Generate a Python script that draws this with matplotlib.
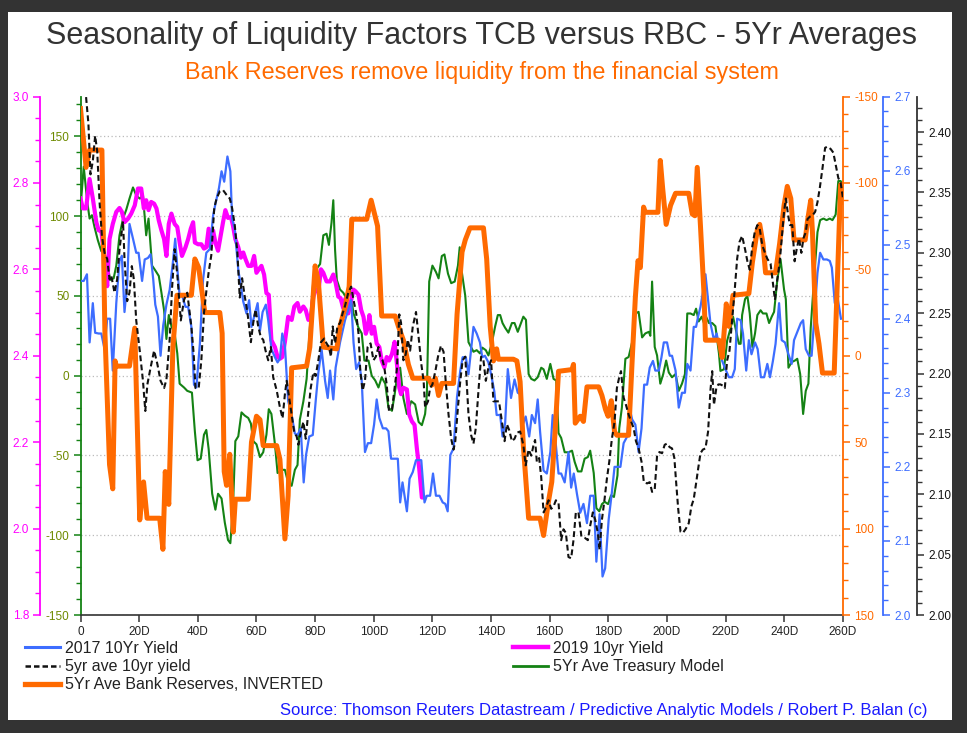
import matplotlib
matplotlib.use("Agg")
import matplotlib.pyplot as plt
from matplotlib.patches import Rectangle
from matplotlib.ticker import MultipleLocator, FormatStrFormatter, FixedLocator
from matplotlib.lines import Line2D

plt.rcParams['font.family'] = ['Liberation Sans', 'DejaVu Sans']
plt.rcParams['axes.unicode_minus'] = False

# ---------------- data (day, value) ----------------
x_ticks = list(range(0, 261, 20))
x_labels = ['0'] + [f'{d}D' for d in x_ticks[1:]]

# 5Yr Ave Treasury Model (left inner axis, -150..175)
treasury_pts = [(0,105),(1.1,131),(2.3,109),(3.1,98.5),(3.9,100.6),(4.8,93),(5.9,85),(7.1,78),(8.2,77),(9.3,69),(10.1,60),(11.3,61),(12.2,69),(13.3,88),(14.5,98.5),(15.6,104),(16.7,111),(17.9,118),(19.0,113),(20.2,111),(21.3,113),(22.4,88),(23.2,98.5),(24.4,69),(25.5,66),(26.7,62.5),(27.6,52),(28.5,41),(29.3,23),(30.1,38),(31.0,31),(32.1,26.5),(33.0,14),(33.8,-5),(35.3,-7.4),(36.4,-9.5),(38.0,-10.6),(39.0,-35),(39.9,-53),(41.0,-52),(42.1,-37),(42.9,-34),(43.7,-46),(44.9,-74),(46.0,-84),(46.9,-74),(48.1,-77),(49.2,-92),(50.3,-103),(51.1,-105),(52.0,-82),(52.8,-41),(53.8,-38),(54.9,-23),(56.0,-25),(57.2,-26.5),(58.1,-30),(58.9,-41),(60.0,-43),(61.2,-51),(62.3,-48),(63.4,-37),(64.2,-21),(65.1,-24),(66.3,-43),(67.2,-61),(68.6,-59),(69.7,-59),(70.8,-67),(72.0,-69),(73.1,-59),(74.0,-56),(74.8,-27.5),(76.0,-16),(77.1,-2),(78.2,30),(79.4,60),(80.5,67),(81.7,70),(82.8,88),(83.9,89),(84.7,82),(85.6,96),(86.2,110),(86.8,79),(87.4,60),(88.5,54),(89.6,52),(90.8,48),(91.9,54),(93.1,39),(94.8,30),(95.9,26.5),(96.8,9.5),(98.2,9.5),(99.3,0),(100.5,-3),(101.6,-7.4),(102.7,-1),(103.9,-5),(105.0,-20),(106.2,-22),(107.1,-12),(108.2,3),(109.0,5),(110.1,-14),(111.3,-24),(112.8,-16),(114.1,-18),(115.3,-29),(116.4,-31),(117.5,-24),(118.1,-12),(118.9,59),(120.0,69),(121.2,65),(122.1,61),(123.2,75),(124.1,76),(125.3,64),(126.4,58),(127.6,59),(128.7,69),(129.3,80.5),(130.1,64),(131.2,50),(132.3,21),(134.0,15),(135.1,16),(136.2,14),(137.0,17.6),(138.2,16),(139.1,12.7),(140.2,20),(141.4,31),(142.3,38),(143.1,38),(143.9,33),(144.8,30),(145.9,27),(147.1,33),(148.0,33),(149.1,27.5),(150.2,33),(151.0,37),(151.9,35),(152.8,1),(153.7,-2),(154.8,-3),(155.9,-1),(157.1,5),(157.9,4),(159.0,-2),(160.2,7.4),(161.3,-2),(162.2,-3),(163.0,-36),(163.9,-39),(165.1,-48),(166.4,-48),(167.6,-47),(168.5,-54),(169.6,-60),(170.8,-60),(171.9,-52),(173.0,-51),(173.8,-47),(175.0,-61),(175.9,-83),(176.9,-85),(177.8,-80.5),(178.7,-79),(179.9,-80.5),(180.9,-75),(181.9,-76),(183.1,-62.5),(183.7,-33),(184.6,-20),(185.8,10.6),(186.9,11.7),(188.1,21),(189.2,39),(190.3,40),(191.5,24),(192.6,26.5),(193.8,27.5),(194.3,25),(194.9,59),(195.8,18),(196.6,12.7),(197.7,-5),(198.7,1),(199.7,9.5),(200.6,2),(201.7,-1),(202.9,1),(204.0,-9.5),(205.1,-5),(206.1,1),(206.9,39),(208.0,39),(209.1,38),(209.9,42),(210.8,34),(211.8,37),(212.6,33),(213.3,37),(214.3,33),(215.4,33),(216.5,31),(217.7,14),(218.2,3),(219.4,4),(220.5,22),(221.7,30),(222.5,37),(223.6,27.5),(224.5,20),(225.1,20),(225.6,38),(226.6,48),(227.4,50),(228.2,39),(229.1,18),(230.0,26.5),(230.8,38),(231.9,41),(232.7,39),(233.9,39),(234.8,33),(235.7,37),(236.5,40),(237.6,60),(238.7,73),(239.9,54),(240.5,48),(241.4,5),(242.5,8.5),(243.6,9.5),(244.4,10.6),(245.4,1),(246.4,-24),(247.3,-9.5),(248.2,-5),(249.0,30),(250.1,60),(251.3,90),(252.2,97.5),(253.3,98.5),(254.4,97.5),(255.5,98.5),(256.4,97.5),(257.5,101),(258.4,122),(259.2,122),(259.8,120)]

# 2019 10yr Yield (left outer axis, 1.8..3.0)
y2019_pts = [(0,2.764),(0.8,2.741),(1.9,2.741),(3.1,2.809),(4.2,2.764),(5.4,2.709),(6.2,2.690),(7.1,2.690),(8.2,2.623),(9.1,2.561),(9.9,2.670),(11.0,2.705),(12.2,2.733),(13.3,2.742),(14.1,2.733),(15.0,2.709),(16.2,2.717),(17.3,2.729),(18.5,2.748),(19.6,2.787),(20.7,2.787),(21.6,2.741),(22.4,2.760),(23.2,2.737),(24.1,2.756),(25.1,2.752),(25.9,2.741),(26.7,2.713),(27.6,2.690),(28.5,2.670),(29.3,2.631),(30.1,2.705),(31.0,2.729),(32.1,2.705),(33.0,2.698),(33.8,2.662),(34.6,2.631),(35.8,2.651),(36.7,2.670),(37.6,2.694),(38.4,2.709),(39.0,2.662),(40.1,2.658),(41.2,2.658),(42.1,2.648),(42.9,2.651),(43.7,2.694),(44.4,2.651),(45.2,2.690),(46.0,2.662),(46.9,2.643),(47.8,2.678),(48.6,2.709),(49.4,2.737),(50.3,2.719),(51.3,2.721),(52.0,2.701),(52.8,2.670),(53.8,2.651),(54.7,2.627),(55.5,2.639),(56.3,2.623),(57.2,2.608),(58.3,2.608),(59.2,2.631),(60.0,2.592),(60.8,2.600),(61.7,2.608),(62.6,2.588),(63.4,2.545),(64.2,2.541),(65.1,2.436),(66.3,2.420),(67.2,2.397),(68.0,2.393),(68.8,2.397),(69.7,2.432),(70.8,2.490),(72.0,2.483),(72.9,2.514),(74.0,2.522),(74.8,2.502),(76.0,2.514),(76.8,2.506),(77.7,2.483),(78.6,2.494),(79.4,2.537),(80.2,2.553),(81.1,2.549),(82.0,2.600),(82.8,2.592),(83.9,2.572),(85.1,2.572),(86.2,2.588),(87.0,2.569),(87.9,2.537),(88.7,2.533),(89.6,2.510),(90.4,2.533),(91.3,2.498),(92.3,2.529),(93.1,2.553),(93.8,2.549),(94.8,2.541),(95.7,2.506),(96.5,2.490),(97.3,2.451),(98.0,2.467),(98.5,2.494),(99.3,2.451),(100.1,2.467),(101.0,2.428),(101.9,2.420),(102.7,2.389),(103.6,2.373),(104.4,2.397),(105.2,2.389),(106.2,2.404),(107.1,2.432),(107.9,2.381),(108.7,2.326),(109.3,2.311),(110.1,2.326),(111.3,2.322),(112.1,2.264),(113.0,2.248),(113.9,2.240),(114.7,2.185),(115.5,2.139),(116.4,2.072),(117.0,2.072)]

# 2017 10Yr Yield (right axis 2.0..2.7)
y2017_pts = [(0,2.451),(1.1,2.451),(2.2,2.460),(3.1,2.368),(4.2,2.421),(5.0,2.381),(6.2,2.380),(7.1,2.380),(8.2,2.359),(9.1,2.400),(10.1,2.400),(11.0,2.330),(12.2,2.421),(13.3,2.478),(14.1,2.485),(15.0,2.409),(15.9,2.446),(16.7,2.528),(17.9,2.508),(19.0,2.489),(19.8,2.489),(21.0,2.451),(21.9,2.480),(23.0,2.482),(23.9,2.487),(24.8,2.453),(25.5,2.419),(26.4,2.403),(27.3,2.350),(28.2,2.391),(29.3,2.419),(30.4,2.439),(31.5,2.476),(32.3,2.508),(33.0,2.469),(33.8,2.430),(34.6,2.432),(35.8,2.416),(36.7,2.416),(37.8,2.389),(38.7,2.311),(39.5,2.307),(40.7,2.366),(41.8,2.453),(42.9,2.489),(44.1,2.494),(45.2,2.539),(46.0,2.555),(47.2,2.576),(48.1,2.599),(49.0,2.585),(50.1,2.619),(51.1,2.599),(51.7,2.535),(52.6,2.521),(53.8,2.466),(54.7,2.444),(55.5,2.423),(56.6,2.407),(57.5,2.425),(58.3,2.389),(59.5,2.407),(60.4,2.421),(61.2,2.384),(62.1,2.409),(63.2,2.419),(64.0,2.398),(65.1,2.359),(66.3,2.348),(67.2,2.341),(68.0,2.346),(68.8,2.380),(69.7,2.364),(70.8,2.289),(72.0,2.270),(73.1,2.245),(74.0,2.243),(75.1,2.252),(76.1,2.179),(76.9,2.216),(78.0,2.241),(79.2,2.243),(80.2,2.289),(81.1,2.327),(82.2,2.359),(83.4,2.316),(84.3,2.293),(85.1,2.330),(86.2,2.291),(87.0,2.334),(88.5,2.368),(90.2,2.398),(91.3,2.412),(92.3,2.425),(93.1,2.368),(94.0,2.332),(95.0,2.341),(95.9,2.316),(97.0,2.220),(98.0,2.232),(99.1,2.232),(100.1,2.257),(101.0,2.291),(101.9,2.266),(103.1,2.252),(104.2,2.252),(105.0,2.248),(105.9,2.211),(108.2,2.211),(109.0,2.152),(109.8,2.179),(111.3,2.140),(112.2,2.184),(113.3,2.193),(114.4,2.209),(116.2,2.209),(117.3,2.152),(118.1,2.161),(119.2,2.161),(120.2,2.191),(121.2,2.161),(122.4,2.161),(123.5,2.152),(124.4,2.150),(125.2,2.140),(126.1,2.216),(127.2,2.225),(128.4,2.295),(129.5,2.330),(130.3,2.348),(131.4,2.348),(132.3,2.325),(134.0,2.389),(135.1,2.380),(136.2,2.368),(137.0,2.348),(137.9,2.350),(139.1,2.341),(140.0,2.325),(141.1,2.302),(141.9,2.270),(143.1,2.270),(143.9,2.241),(144.8,2.259),(145.7,2.332),(146.8,2.293),(148.0,2.318),(149.1,2.300),(150.0,2.298),(151.0,2.259),(151.8,2.268),(153.0,2.241),(153.9,2.270),(155.0,2.259),(155.9,2.291),(156.7,2.248),(157.9,2.195),(159.0,2.191),(160.2,2.220),(161.0,2.270),(161.9,2.238),(163.0,2.191),(163.9,2.191),(165.1,2.179),(166.4,2.220),(167.3,2.172),(168.2,2.191),(169.3,2.163),(170.4,2.138),(171.5,2.150),(172.7,2.124),(173.8,2.161),(175.0,2.161),(175.9,2.072),(177.0,2.136),(178.0,2.052),(178.9,2.063),(180.1,2.129),(181.2,2.166),(182.1,2.200),(184.1,2.200),(185.2,2.232),(186.4,2.241),(187.2,2.280),(188.1,2.264),(189.2,2.257),(190.3,2.220),(191.3,2.252),(192.2,2.311),(193.2,2.311),(194.1,2.334),(195.2,2.343),(196.0,2.330),(197.2,2.330),(198.1,2.348),(198.9,2.368),(200.0,2.368),(200.9,2.350),(201.7,2.350),(202.9,2.330),(204.0,2.280),(205.1,2.300),(206.1,2.300),(206.9,2.339),(208.0,2.330),(209.1,2.389),(209.9,2.389),(210.6,2.403),(211.4,2.416),(212.2,2.435),(213.1,2.460),(214.0,2.425),(214.8,2.394),(216.0,2.371),(216.9,2.380),(217.9,2.362),(218.8,2.343),(219.9,2.332),(221.1,2.321),(222.2,2.321),(223.1,2.332),(223.9,2.400),(225.1,2.398),(225.9,2.380),(227.0,2.330),(227.9,2.371),(228.8,2.352),(230.0,2.368),(230.9,2.359),(232.0,2.321),(233.1,2.321),(234.2,2.339),(235.1,2.321),(236.1,2.343),(237.0,2.366),(238.2,2.421),(239.1,2.371),(240.2,2.368),(241.4,2.352),(242.5,2.339),(243.3,2.371),(244.4,2.382),(245.6,2.394),(246.4,2.398),(247.3,2.359),(248.4,2.350),(249.3,2.350),(250.1,2.394),(251.3,2.462),(252.2,2.489),(253.3,2.480),(254.5,2.480),(255.5,2.478),(256.2,2.469),(257.2,2.421),(258.1,2.430),(259.3,2.400)]

# 5yr ave 10yr yield (right outer axis 2.00..2.43)
ave10_pts = [(1.9,2.429),(2.7,2.407),(3.4,2.365),(4.2,2.376),(5.0,2.397),(5.7,2.384),(6.5,2.342),(7.3,2.314),(8.2,2.300),(9.1,2.295),(9.9,2.278),(10.5,2.281),(11.6,2.267),(12.5,2.278),(13.3,2.303),(14.5,2.326),(15.0,2.295),(15.9,2.260),(16.7,2.267),(17.5,2.289),(18.2,2.278),(19.0,2.244),(20.2,2.219),(21.3,2.194),(22.1,2.169),(22.8,2.191),(23.9,2.205),(25.1,2.219),(26.2,2.208),(27.3,2.194),(28.5,2.188),(29.3,2.195),(30.4,2.228),(31.2,2.270),(32.1,2.303),(33.0,2.282),(34.2,2.244),(35.3,2.261),(36.4,2.267),(37.8,2.239),(38.6,2.216),(39.2,2.188),(40.3,2.188),(41.2,2.211),(42.1,2.250),(42.9,2.268),(43.7,2.284),(44.6,2.298),(45.6,2.337),(46.4,2.345),(47.5,2.351),(48.6,2.352),(49.8,2.348),(50.9,2.345),(51.7,2.337),(52.6,2.323),(53.5,2.300),(54.3,2.263),(55.1,2.279),(56.0,2.264),(56.9,2.251),(58.1,2.226),(58.9,2.242),(59.7,2.253),(60.6,2.239),(61.5,2.230),(62.3,2.228),(63.1,2.219),(64.0,2.211),(64.9,2.222),(65.7,2.197),(66.9,2.186),(68.0,2.172),(68.9,2.163),(69.7,2.183),(70.3,2.194),(71.1,2.181),(72.0,2.166),(72.9,2.151),(73.7,2.148),(74.3,2.141),(75.2,2.152),(76.0,2.160),(76.8,2.146),(77.7,2.169),(78.5,2.188),(79.4,2.201),(80.2,2.198),(81.1,2.211),(82.0,2.226),(83.1,2.229),(83.9,2.225),(84.7,2.222),(85.4,2.214),(86.0,2.239),(86.8,2.225),(87.6,2.239),(88.5,2.242),(89.4,2.250),(90.2,2.256),(91.3,2.267),(92.3,2.272),(93.1,2.261),(94.0,2.250),(94.8,2.233),(95.4,2.202),(96.2,2.186),(97.0,2.194),(97.9,2.222),(98.9,2.225),(99.9,2.211),(100.7,2.214),(101.6,2.222),(102.2,2.214),(103.0,2.211),(103.6,2.205),(104.4,2.191),(105.2,2.169),(106.2,2.170),(107.1,2.188),(107.9,2.204),(108.7,2.249),(109.3,2.242),(110.1,2.211),(110.9,2.216),(111.6,2.228),(112.4,2.219),(113.3,2.239),(114.4,2.251),(115.3,2.230),(116.2,2.208),(117.0,2.194),(117.5,2.172),(118.5,2.177),(119.2,2.188),(120.0,2.191),(121.0,2.202),(121.9,2.214),(122.9,2.223),(123.8,2.218),(124.6,2.191),(125.5,2.166),(126.4,2.146),(127.2,2.137),(127.8,2.144),(128.7,2.172),(129.5,2.194),(130.3,2.211),(131.2,2.214),(132.3,2.166),(133.2,2.149),(134.0,2.142),(134.8,2.155),(135.7,2.186),(136.6,2.214),(137.4,2.211),(138.2,2.194),(139.1,2.205),(140.0,2.211),(140.8,2.177),(142.7,2.177),(143.6,2.162),(144.6,2.144),(145.4,2.158),(146.2,2.153),(147.1,2.144),(148.0,2.146),(148.8,2.151),(149.9,2.152),(151.0,2.141),(151.8,2.124),(152.8,2.137),(153.7,2.132),(154.5,2.141),(155.0,2.145),(155.6,2.127),(156.4,2.130),(157.1,2.114),(157.9,2.085),(158.7,2.089),(159.6,2.095),(160.5,2.088),(161.3,2.090),(162.1,2.095),(163.0,2.093),(163.9,2.062),(164.7,2.071),(165.5,2.068),(166.4,2.048),(167.3,2.047),(168.1,2.062),(168.9,2.085),(169.8,2.085),(170.8,2.065),(171.9,2.064),(173.0,2.062),(173.8,2.074),(174.7,2.085),(175.5,2.079),(176.4,2.068),(177.0,2.054),(177.8,2.079),(178.7,2.096),(179.5,2.113),(180.3,2.127),(181.2,2.146),(182.1,2.160),(182.9,2.188),(183.7,2.197),(184.3,2.202),(185.2,2.180),(186.0,2.174),(186.9,2.166),(187.8,2.160),(188.6,2.155),(189.4,2.144),(190.3,2.138),(191.3,2.127),(192.1,2.110),(193.2,2.109),(194.1,2.110),(194.9,2.102),(195.8,2.104),(196.6,2.132),(197.4,2.135),(198.3,2.134),(199.2,2.141),(200.0,2.142),(200.9,2.139),(201.7,2.138),(202.5,2.130),(203.1,2.110),(203.8,2.088),(204.6,2.069),(205.4,2.068),(206.3,2.071),(207.4,2.076),(208.3,2.090),(209.1,2.096),(209.9,2.109),(210.6,2.121),(211.4,2.134),(212.2,2.137),(213.1,2.138),(214.0,2.152),(214.8,2.186),(215.4,2.202),(216.0,2.174),(216.8,2.188),(217.5,2.191),(218.2,2.191),(219.0,2.190),(219.7,2.188),(220.5,2.211),(221.3,2.219),(222.2,2.244),(223.1,2.270),(223.9,2.295),(224.7,2.309),(225.6,2.314),(226.6,2.303),(227.4,2.293),(228.2,2.286),(229.1,2.306),(229.9,2.317),(230.8,2.323),(231.6,2.320),(232.5,2.306),(233.4,2.300),(234.2,2.295),(235.3,2.291),(236.1,2.275),(236.8,2.261),(237.6,2.278),(238.4,2.292),(239.3,2.317),(239.9,2.334),(240.5,2.345),(241.3,2.331),(241.9,2.323),(242.7,2.323),(243.5,2.293),(244.2,2.303),(245.0,2.312),(245.8,2.300),(246.5,2.312),(247.3,2.317),(247.9,2.328),(248.7,2.330),(249.6,2.331),(250.5,2.334),(251.3,2.342),(252.1,2.354),(253.0,2.370),(253.9,2.387),(254.7,2.388),(255.8,2.386),(256.7,2.383),(257.5,2.373),(258.4,2.362),(259.2,2.358),(260.0,2.345)]

# 5Yr Ave Bank Reserves, INVERTED (right inner axis, inverted -150..150)
reserves_pts = [(0,-143),(1.9,-109),(3.1,-119),(7.3,-119),(8.3,-15),(9.9,63),(11.0,77),(11.8,3),(12.2,6),(16.7,6),(18.5,-16),(20.2,95),(21.5,73),(22.7,94),(27.0,94),(28.1,112),(28.9,67),(30.1,86),(31.5,-5),(32.9,-35),(37.8,-35),(39.0,-56),(40.3,-51),(42.4,-25),(47.5,-25),(48.3,-13),(49.0,67),(49.8,75),(50.9,57),(52.1,102),(52.8,83),(57.2,83),(58.3,50),(60.0,35),(61.2,37),(62.3,52),(66.9,52),(68.0,60),(69.7,106),(70.8,81),(72.0,7),(77.1,6),(78.2,-5),(80.0,-52),(81.1,-43),(82.8,-5),(87.4,-4),(88.5,-17),(90.2,-28),(91.6,-40),(92.5,-79),(97.6,-79),(99.1,-90),(101.3,-75),(102.7,-23),(107.3,-23),(108.4,-17),(110.1,-9),(111.8,5),(113.3,13),(118.7,13),(119.8,17),(121.0,13),(122.1,23),(123.2,16),(127.2,16),(128.4,-24),(130.1,-60),(131.2,-67),(132.8,-74),(137.4,-74),(138.5,-56),(139.7,-17),(140.8,3),(141.9,-4),(142.5,2),(147.6,2),(148.8,3),(149.9,15),(151.0,52),(152.8,94),(156.7,94),(157.9,104),(159.6,84),(160.7,73),(161.9,42),(163.0,9),(167.6,8),(168.1,5),(168.7,39),(170.4,35),(171.5,38),(172.7,18),(176.7,18),(177.8,23),(179.0,31),(179.9,35),(181.0,26),(182.1,44),(182.9,46),(186.9,46),(188.1,3),(189.2,-34),(190.1,-55),(190.9,-51),(192.0,-86),(192.6,-83),(196.9,-83),(197.7,-113),(198.5,-97),(199.7,-76),(201.2,-87),(202.9,-94),(207.4,-94),(208.6,-82),(209.5,-81),(210.3,-109),(211.4,-75),(212.6,-36),(213.1,-9),(217.7,-9),(218.8,1),(220.2,-30),(221.1,-17),(222.5,-35),(227.9,-36),(229.1,-54),(230.8,-73),(231.6,-76),(232.7,-65),(233.6,-48),(237.0,-48),(238.4,-65),(239.9,-87),(241.0,-98),(242.2,-91),(243.3,-67),(247.1,-67),(247.9,-78),(249.0,-90),(249.6,-71),(250.7,-19),(251.8,-7),(253.0,10),(257.0,10),(258.1,-44),(259.2,-99),(259.8,-99),(260,-89)]

def split(pts):
    return [p[0] for p in pts], [p[1] for p in pts]

# ---------------- figure ----------------
W, H = 967, 733
fig = plt.figure(figsize=(W/100, H/100), dpi=100, facecolor='#333333')
fig.add_artist(Rectangle((8/W, 1-720/H), (952-8)/W, (720-12)/H, transform=fig.transFigure,
                         facecolor='white', edgecolor='none', zorder=-10))

C_GREEN = '#148214'
C_GREEN_TXT = '#6e8a00'
C_MAG = '#ff00ff'
C_BLUE = '#3d6dff'
C_ORANGE = '#ff6a00'
C_BLACK = '#111111'

left, right = 80.5/W, 843/W
bottom, top = 1-615/H, 1-96.5/H
ax = fig.add_axes([left, bottom, right-left, top-bottom])
ax.patch.set_alpha(0)

tick_fs = 8.5

def style_axis(a, side, color, lblcolor, major, minor, lim, fmt=None, outward=0, spinecolor=None):
    for s in ['top', 'bottom', 'left', 'right']:
        a.spines[s].set_visible(False)
    a.spines[side].set_visible(True)
    a.spines[side].set_color(spinecolor or color)
    a.spines[side].set_linewidth(1.3)
    if outward:
        a.spines[side].set_position(('outward', outward))
    a.set_ylim(*lim)
    a.yaxis.set_ticks_position(side)
    a.yaxis.set_major_locator(MultipleLocator(major))
    a.yaxis.set_minor_locator(MultipleLocator(minor))
    if fmt:
        a.yaxis.set_major_formatter(FormatStrFormatter(fmt))
    a.tick_params(axis='y', which='major', direction='out', length=5, width=1.1,
                  color=spinecolor or color, labelcolor=lblcolor, labelsize=tick_fs, pad=3)
    a.tick_params(axis='y', which='minor', direction='out', length=3.5, width=1.0,
                  color=spinecolor or color)

# host: treasury model axis (green, left)
style_axis(ax, 'left', C_GREEN, C_GREEN_TXT, 50, 10, (-150, 175))
ax.spines['bottom'].set_visible(True)
ax.spines['bottom'].set_color('#333333')
ax.spines['bottom'].set_linewidth(1.2)
ax.set_xlim(0, 260)
ax.xaxis.set_major_locator(FixedLocator(x_ticks))
ax.set_xticklabels(x_labels)
ax.tick_params(axis='x', direction='out', length=5, width=1.1, color='#333333',
               labelsize=tick_fs, labelcolor='#222222', pad=3)
ax.yaxis.grid(True, which='major', linestyle=(0, (1, 2)), color='#bbbbbb', linewidth=0.9)
ax.set_axisbelow(True)

axm = ax.twinx()
style_axis(axm, 'left', C_MAG, C_MAG, 0.2, 0.05, (1.8, 3.0), '%.1f', outward=29)
axm.yaxis.set_label_position('left')

axb = ax.twinx()
style_axis(axb, 'right', C_BLUE, C_BLUE, 0.1, 0.02, (2.0, 2.7), '%.1f', outward=29)

axo = ax.twinx()
style_axis(axo, 'right', C_ORANGE, C_ORANGE, 50, 10, (150, -150))

axk = ax.twinx()
style_axis(axk, 'right', '#333333', '#111111', 0.05, 0.01, (2.0, 2.4295), '%.2f', outward=53.5)

for a in (axm, axb, axo, axk):
    a.set_xlim(0, 260)

# ---------------- series ----------------
d, v = split(treasury_pts)
ax.plot(d, v, color=C_GREEN, lw=1.5, solid_joinstyle='round')
d, v = split(y2019_pts)
axm.plot(d, v, color=C_MAG, lw=3.0, solid_joinstyle='round')
d, v = split(y2017_pts)
axb.plot(d, v, color=C_BLUE, lw=1.6, solid_joinstyle='round')
d, v = split(reserves_pts)
axo.plot(d, v, color=C_ORANGE, lw=3.6, solid_joinstyle='round')
d, v = split(ave10_pts)
axk.plot(d, v, color=C_BLACK, lw=1.5, dashes=(2.8, 1.6))

# ---------------- texts ----------------
fig.text(482/W, 1-36/H, 'Seasonality of Liquidity Factors TCB versus RBC - 5Yr Averages',
         ha='center', va='center', fontsize=22, color='#333333')
fig.text(482/W, 1-73/H, 'Bank Reserves remove liquidity from the financial system',
         ha='center', va='center', fontsize=16.8, color='#ff6a00')

handles = [
    Line2D([], [], color=C_BLUE, lw=2.2),
    Line2D([], [], color=C_BLACK, lw=1.8, dashes=(2.2, 1.2)),
    Line2D([], [], color=C_ORANGE, lw=3.8),
    Line2D([], [], color=C_MAG, lw=3.2),
    Line2D([], [], color=C_GREEN, lw=2.0),
]
labels = ['2017 10Yr Yield', '5yr ave 10yr yield', '5Yr Ave Bank Reserves, INVERTED',
          '2019 10yr Yield', '5Yr Ave Treasury Model']
fig.legend(handles, labels, ncol=2, loc='upper left', bbox_to_anchor=(25/W, 1-641/H),
           frameon=False, fontsize=11.5, handlelength=2.2, handletextpad=0.3,
           labelspacing=0.2, columnspacing=11.9, borderpad=0, borderaxespad=0,
           labelcolor='#222222')

fig.text(928/W, 1-711/H,
         'Source: Thomson Reuters Datastream / Predictive Analytic Models / Robert P. Balan (c)',
         ha='right', va='center', fontsize=12, color='#1a1aff')

fig.savefig('out.png', dpi=100, facecolor=fig.get_facecolor())
